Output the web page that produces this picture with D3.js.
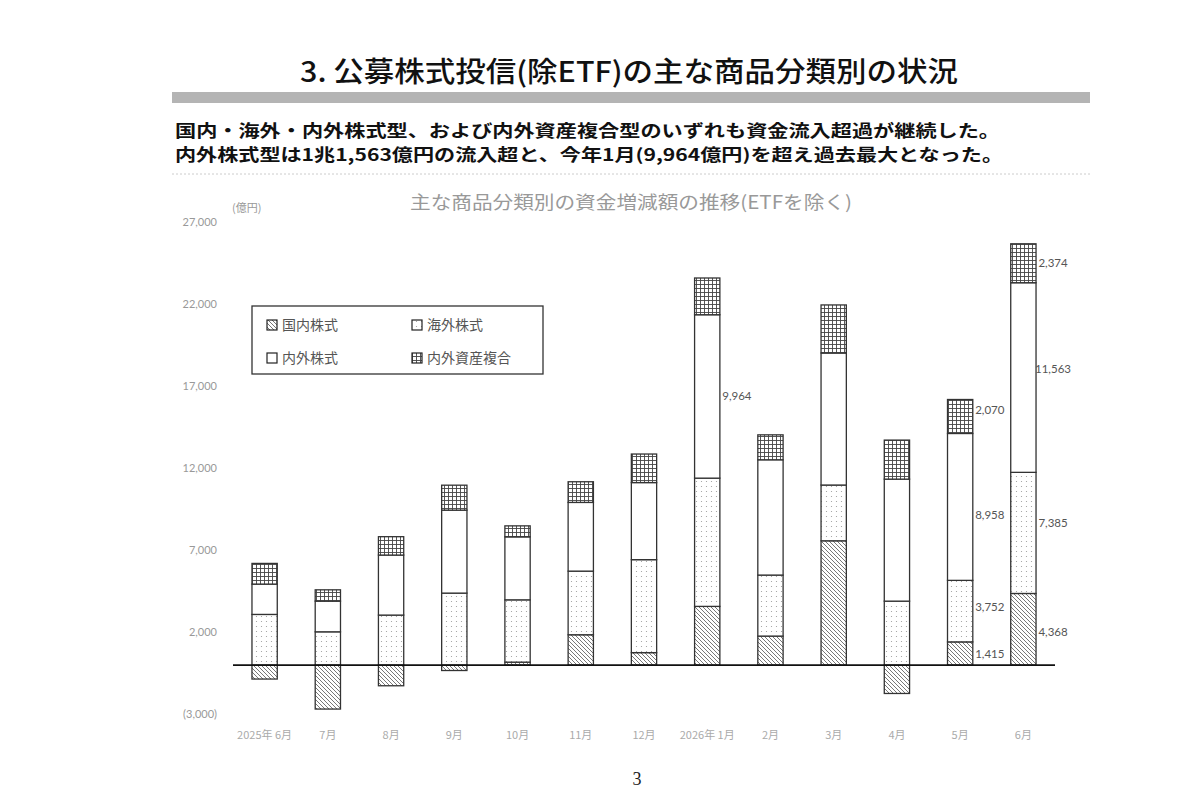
<!DOCTYPE html>
<html>
<head>
<meta charset="utf-8">
<script src="https://cdn.jsdelivr.net/npm/d3@7"></script>
<style>
  body { margin: 0; background: #fff; }
  svg { display: block; font-family: "Noto Sans CJK JP", "Noto Sans", sans-serif; }
</style>
</head>
<body>
<svg id="chart"></svg>
<script>
// months on the x axis
const months = ["2025年 6月", "7月", "8月", "9月", "10月", "11月", "12月",
                "2026年 1月", "2月", "3月", "4月", "5月", "6月"];

// flows by category (億円)
const domestic = [-850, -2680, -1260, -330, 180, 1850, 760, 3580, 1770, 7580, -1730, 1415, 4368];
const foreign  = [3090, 2030, 3050, 4390, 3800, 3880, 5670, 7820, 3720, 3400, 3900, 3752, 7385];
const global   = [1850, 1870, 3660, 5060, 3840, 4190, 4700, 9964, 7030, 8050, 7440, 8958, 11563];
const balanced = [1260, 690, 1120, 1520, 670, 1260, 1740, 2240, 1520, 2930, 2380, 2070, 2374];

const seriesKeys = ["domestic", "foreign", "global", "balanced"];
const seriesNames = ["国内株式", "海外株式", "内外株式", "内外資産複合"];

const yTicks = [-3000, 2000, 7000, 12000, 17000, 22000, 27000];

// which segments carry a value label: [month index, series index]
const labelled = [[7, 2], [11, 0], [11, 1], [11, 2], [11, 3], [12, 0], [12, 1], [12, 2], [12, 3]];
// small vertical nudges (px) so labels sit where the original put them
const labelShift = [0, 0, -4, 8, -7, 3, -10, -9, 0];

const width = 1200, height = 800;

const svg = d3.select("#chart")
    .attr("width", width)
    .attr("height", height);

// patterns for the black & white fills
const defs = svg.append("defs");

const hatch = defs.append("pattern")
    .attr("id", "pat-domestic")
    .attr("patternUnits", "userSpaceOnUse")
    .attr("width", 4).attr("height", 4);
hatch.append("rect").attr("width", 4).attr("height", 4).attr("fill", "#fff");
hatch.append("path")
    .attr("d", "M-1,-1 L5,5 M-1,3 L1,5 M3,-1 L5,1")
    .attr("stroke", "#555").attr("stroke-width", 0.8);

const dots = defs.append("pattern")
    .attr("id", "pat-foreign")
    .attr("patternUnits", "userSpaceOnUse")
    .attr("width", 5).attr("height", 5);
dots.append("rect").attr("width", 5).attr("height", 5).attr("fill", "#fff");
dots.append("circle").attr("cx", 1.5).attr("cy", 1.5).attr("r", 0.6).attr("fill", "#999");

const white = defs.append("pattern")
    .attr("id", "pat-global")
    .attr("patternUnits", "userSpaceOnUse")
    .attr("width", 4).attr("height", 4);
white.append("rect").attr("width", 4).attr("height", 4).attr("fill", "#fff");

const grid = defs.append("pattern")
    .attr("id", "pat-balanced")
    .attr("patternUnits", "userSpaceOnUse")
    .attr("width", 4).attr("height", 4);
grid.append("rect").attr("width", 4).attr("height", 4).attr("fill", "#fff");
grid.append("path")
    .attr("d", "M0,0.5 H4 M0.5,0 V4")
    .attr("stroke", "#444").attr("stroke-width", 0.9);

// page header
svg.append("text")
    .attr("x", 300)
    .attr("y", 82)
    .attr("textLength", 658)
    .attr("lengthAdjust", "spacingAndGlyphs")
    .attr("font-size", "28px")
    .attr("font-weight", 500)
    .attr("fill", "#111")
    .text("3. 公募株式投信(除ETF)の主な商品分類別の状況");

svg.append("rect")
    .attr("x", 172).attr("y", 92)
    .attr("width", 918).attr("height", 11)
    .attr("fill", "#b4b4b4");

svg.append("text")
    .attr("x", 175)
    .attr("y", 137)
    .attr("textLength", 825)
    .attr("lengthAdjust", "spacingAndGlyphs")
    .attr("font-size", "16.5px")
    .attr("font-weight", 700)
    .attr("fill", "#111")
    .text("国内・海外・内外株式型、および内外資産複合型のいずれも資金流入超過が継続した。");

svg.append("text")
    .attr("x", 175)
    .attr("y", 161)
    .attr("textLength", 828)
    .attr("lengthAdjust", "spacingAndGlyphs")
    .attr("font-size", "16.5px")
    .attr("font-weight", 700)
    .attr("fill", "#111")
    .text("内外株式型は1兆1,563億円の流入超と、今年1月(9,964億円)を超え過去最大となった。");

svg.append("line")
    .attr("x1", 172).attr("x2", 1090)
    .attr("y1", 174).attr("y2", 174)
    .attr("stroke", "#ccc")
    .attr("stroke-dasharray", "2,2");

// chart title and unit
svg.append("text")
    .attr("x", 410)
    .attr("y", 209)
    .attr("textLength", 442)
    .attr("lengthAdjust", "spacingAndGlyphs")
    .attr("font-size", "18px")
    .attr("fill", "#999")
    .text("主な商品分類別の資金増減額の推移(ETFを除く)");

svg.append("text")
    .attr("x", 232)
    .attr("y", 212)
    .attr("font-size", "11px")
    .attr("fill", "#999")
    .text("(億円)");

// scales
const x = d3.scaleBand()
    .domain(months)
    .range([233, 1055])
    .paddingInner(0.6)
    .paddingOuter(0.3);

const y = d3.scaleLinear()
    .domain([-3000, 27000])
    .range([714.3, 222.3]);

const table = months.map((m, i) => ({
    month: m,
    domestic: domestic[i],
    foreign: foreign[i],
    global: global[i],
    balanced: balanced[i]
}));

const stacked = d3.stack()
    .keys(seriesKeys)
    .offset(d3.stackOffsetDiverging)(table);

// axes
const fmt = d3.format(",");
svg.append("g")
    .attr("transform", "translate(217,0)")
    .call(d3.axisLeft(y)
        .tickValues(yTicks)
        .tickSize(0)
        .tickPadding(0)
        .tickFormat(d => d < 0 ? `(${fmt(-d)})` : fmt(d)))
    .call(g => g.select(".domain").remove())
    .selectAll("text")
    .attr("font-family", "Lato, 'Open Sans', sans-serif")
    .attr("font-size", "11px")
    .attr("fill", "#999");

svg.append("g")
    .attr("transform", "translate(0,714)")
    .call(d3.axisBottom(x).tickSize(0).tickPadding(17))
    .call(g => g.select(".domain").remove())
    .selectAll("text")
    .attr("font-family", "'Noto Sans CJK JP', sans-serif")
    .attr("font-size", "11px")
    .attr("fill", "#aaa");

// bars
const layers = svg.append("g")
    .selectAll("g")
    .data(stacked)
    .enter()
    .append("g")
    .attr("fill", d => `url(#pat-${d.key})`);

layers.selectAll("rect")
    .data(d => d)
    .enter()
    .append("rect")
    .attr("x", d => x(d.data.month))
    .attr("width", x.bandwidth())
    .attr("y", d => y(Math.max(d[0], d[1])))
    .attr("height", d => Math.abs(y(d[0]) - y(d[1])))
    .attr("stroke", "#333")
    .attr("stroke-width", 1.3);

// zero line
svg.append("line")
    .attr("x1", x.range()[0]).attr("x2", x.range()[1])
    .attr("y1", y(0)).attr("y2", y(0))
    .attr("stroke", "#111")
    .attr("stroke-width", 1.6);

// value labels
svg.append("g")
    .selectAll("text")
    .data(labelled)
    .enter()
    .append("text")
    .attr("x", d => x(months[d[0]]) + x.bandwidth() + 17)
    .attr("y", (d, i) => {
        const seg = stacked[d[1]][d[0]];
        return y((seg[0] + seg[1]) / 2) + labelShift[i];
    })
    .attr("dy", "0.35em")
    .attr("text-anchor", "middle")
    .attr("font-family", "Lato, 'Open Sans', sans-serif")
    .attr("font-size", "11.5px")
    .attr("fill", "#555")
    .text(d => fmt(stacked[d[1]][d[0]].data[seriesKeys[d[1]]]));

// legend
const legend = svg.append("g");
legend.append("rect")
    .attr("x", 252).attr("y", 306)
    .attr("width", 291).attr("height", 68)
    .attr("fill", "#fff")
    .attr("stroke", "#333")
    .attr("stroke-width", 1.3);

seriesKeys.forEach((k, i) => {
    const lx = 267 + (i % 2) * 145;
    const ly = 325 + Math.floor(i / 2) * 33;
    legend.append("rect")
        .attr("x", lx).attr("y", ly - 5)
        .attr("width", 10).attr("height", 10)
        .attr("fill", `url(#pat-${k})`)
        .attr("stroke", "#222")
        .attr("stroke-width", 1.2);
    legend.append("text")
        .attr("x", lx + 15)
        .attr("y", ly)
        .attr("dy", "0.35em")
        .attr("font-size", "14px")
        .attr("fill", "#555")
        .text(seriesNames[i]);
});

// page number
svg.append("text")
    .attr("x", 637)
    .attr("y", 785)
    .attr("text-anchor", "middle")
    .attr("font-family", "'Liberation Serif', serif")
    .attr("font-size", "18px")
    .attr("fill", "#222")
    .text("3");
</script>
</body>
</html>
